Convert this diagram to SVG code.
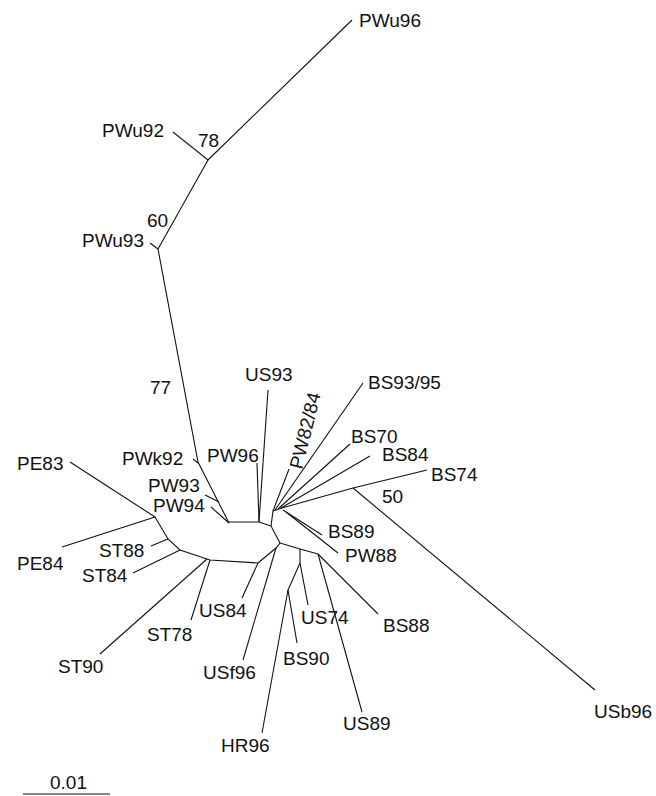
<svg xmlns="http://www.w3.org/2000/svg" width="656" height="796" viewBox="0 0 656 796">
<style>
.e{fill:none;stroke:#111;stroke-width:1.1}
text{font-family:"Liberation Sans",Arial,Helvetica,sans-serif;font-size:19px;fill:#111}
</style>
<rect width="656" height="796" fill="#fff"/>
<g id="connectors">
<path class="e" d="M208,160 L352,20"/>
<path class="e" d="M173,132 L208,160"/>
<path class="e" d="M208,160 L158,249"/>
<path class="e" d="M150,243 L158,249"/>
<path class="e" d="M158,249 L198,462 L229,523"/>
<path class="e" d="M193,459 L198,463"/>
<path class="e" d="M205,495 L219,502"/>
<path class="e" d="M211,507 L229,523"/>
<path class="e" d="M229,522 L259,522 L271,526"/>
<path class="e" d="M257,463 L259,522"/>
<path class="e" d="M268,390 L259,522"/>
<path class="e" d="M271,526 L273,511 L282,508"/>
<path class="e" d="M273,511 L289,469"/>
<path class="e" d="M275,510 L363,383"/>
<path class="e" d="M278,509 L350,444"/>
<path class="e" d="M281,508 L370,456"/>
<path class="e" d="M282,508 L353,488 L427,470"/>
<path class="e" d="M353,488 L595,690"/>
<path class="e" d="M283,510 L322,535"/>
<path class="e" d="M286,512 L338,553"/>
<path class="e" d="M271,526 L280,543"/>
<path class="e" d="M280,543 L300,549 L318,554"/>
<path class="e" d="M280,543 L276,548 L258,563"/>
<path class="e" d="M276,548 L243,660"/>
<path class="e" d="M258,563 L242,598"/>
<path class="e" d="M258,563 L210,560 L207,559 L180,550 L168,539 L155,517"/>
<path class="e" d="M210,560 L191,620"/>
<path class="e" d="M207,559 L100,654"/>
<path class="e" d="M180,550 L133,573"/>
<path class="e" d="M168,539 L151,546"/>
<path class="e" d="M155,517 L70,462"/>
<path class="e" d="M155,517 L62,547"/>
<path class="e" d="M300,549 L300,563 L308,605"/>
<path class="e" d="M300,563 L288,590 L297,643"/>
<path class="e" d="M288,590 L262,733"/>
<path class="e" d="M318,554 L362,712"/>
<path class="e" d="M318,554 L378,614"/>
<path class="e" d="M23,794 L110,794"/>
</g>
<g id="labels">
<text x="359" y="27">PWu96</text>
<text x="102" y="137">PWu92</text>
<text x="198" y="147">78</text>
<text x="147" y="227">60</text>
<text x="82" y="247">PWu93</text>
<text x="150" y="394">77</text>
<text x="245" y="381">US93</text>
<text x="368" y="389">BS93/95</text>
<text transform="translate(302,470) rotate(-76)">PW82/84</text>
<text x="351" y="443">BS70</text>
<text x="382" y="461">BS84</text>
<text x="431" y="481">BS74</text>
<text x="382" y="503">50</text>
<text x="122" y="465">PWk92</text>
<text x="207" y="462">PW96</text>
<text x="148" y="492">PW93</text>
<text x="153" y="512">PW94</text>
<text x="328" y="538">BS89</text>
<text x="345" y="562">PW88</text>
<text x="17" y="470">PE83</text>
<text x="17" y="570">PE84</text>
<text x="99" y="557">ST88</text>
<text x="82" y="582">ST84</text>
<text x="199" y="617">US84</text>
<text x="147" y="641">ST78</text>
<text x="301" y="624">US74</text>
<text x="383" y="632">BS88</text>
<text x="283" y="665">BS90</text>
<text x="58" y="673">ST90</text>
<text x="203" y="679">USf96</text>
<text x="594" y="718">USb96</text>
<text x="343" y="730">US89</text>
<text x="221" y="752">HR96</text>
<text x="50" y="789">0.01</text>
</g>
</svg>
